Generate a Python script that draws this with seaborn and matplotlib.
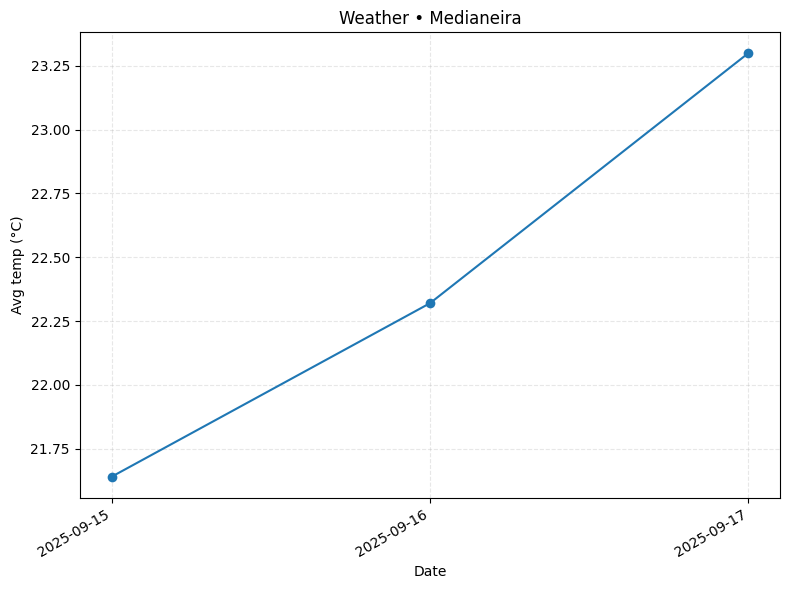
import pandas as pd
import seaborn as sns
from matplotlib import pyplot as plt
import matplotlib.dates as mdates

dates = ['2025-09-15', '2025-09-16', '2025-09-17']
avg_temp = [21.64, 22.32, 23.30]

df = pd.DataFrame({'date': pd.to_datetime(dates), 'temp': avg_temp})

fig, ax = plt.subplots(figsize=(7.89, 5.90), dpi=100)
sns.lineplot(data=df, x='date', y='temp', marker='o', markersize=7,
             markeredgewidth=0, color='#1f77b4', ax=ax)
ax.set_title('Weather • Medianeira')
ax.set_xlabel('Date')
ax.set_ylabel('Avg temp (°C)')
ax.grid(True, linestyle='--', alpha=0.3)
ax.xaxis.set_major_locator(mdates.DayLocator())
ax.xaxis.set_major_formatter(mdates.DateFormatter('%Y-%m-%d'))
fig.autofmt_xdate()
fig.subplots_adjust(left=0.101, right=0.989, top=0.946, bottom=0.156)
fig.savefig('out.png')
